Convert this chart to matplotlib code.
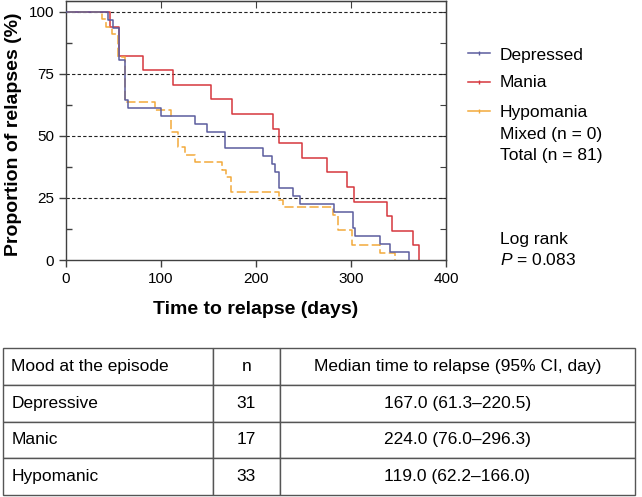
import matplotlib
matplotlib.use("Agg")
import matplotlib.pyplot as plt
from matplotlib.lines import Line2D
import numpy as np

plt.rcParams["font.family"] = ["Liberation Sans", "DejaVu Sans"]
plt.rcParams["mathtext.fontset"] = "custom"
plt.rcParams["mathtext.it"] = "Liberation Sans:italic"
plt.rcParams["mathtext.rm"] = "Liberation Sans"

# Kaplan-Meier style steps (days, % not relapsed)
depressed_t = [0, 44.5, 49, 56, 62, 65.6, 100, 136, 148, 167.4, 207, 217, 220,
               224.6, 238.6, 246, 282, 301.7, 304, 330, 341, 361]
depressed_s = [100, 96.8, 93.5, 80.6, 64.5, 61.3, 58.1, 54.8, 51.6, 45.2, 41.9,
               38.7, 35.5, 29.0, 25.8, 22.6, 19.4, 12.9, 9.7, 6.5, 3.2, 0]

mania_t = [0, 46, 56, 81, 113, 153, 175, 217.5, 224.6, 248, 275, 296, 303,
           337.5, 343, 365, 371.6]
mania_s = [100, 94.1, 82.4, 76.5, 70.6, 64.7, 58.8, 52.9, 47.1, 41.2, 35.3,
           29.4, 23.5, 17.6, 11.8, 5.9, 0]

hypo_t = [0, 37.5, 42, 48, 55, 62, 94, 111, 118, 125, 136, 164, 168, 174, 224,
          228.5, 281.5, 286, 300.7, 330, 346]
hypo_s = [100, 97.0, 93.9, 90.9, 81.8, 63.6, 60.6, 51.5, 45.5, 42.4, 39.4, 36.4,
          33.3, 27.3, 24.2, 21.2, 18.2, 12.1, 6.1, 3.0, 0]

series_labels = ["Depressed", "Mania", "Hypomania"]
extra_labels = ["Mixed (n = 0)", "Total (n = 81)"]

table_header = ["Mood at the episode", "n", "Median time to relapse (95% CI, day)"]
table_rows = [
    ["Depressive", "31", "167.0 (61.3\u2013220.5)"],
    ["Manic", "17", "224.0 (76.0\u2013296.3)"],
    ["Hypomanic", "33", "119.0 (62.2\u2013166.0)"],
]

BLUE = "#5b5d9e"
RED = "#d6373d"
ORANGE = "#f2a93b"
W, H = 642, 497

fig = plt.figure(figsize=(W / 100, H / 100), dpi=100)
ax = fig.add_axes([66 / W, (H - 260) / H, 380 / W, 259 / H])

for y in [25, 50, 75, 100]:
    ax.axhline(y, color="#222222", lw=0.8, ls=(0, (3, 2)), zorder=1)

ax.step(depressed_t, depressed_s, where="post", color=BLUE, lw=1.1, zorder=3)
ax.step(mania_t, mania_s, where="post", color=RED, lw=1.1, zorder=2)
ax.step(hypo_t, hypo_s, where="post", color=ORANGE, lw=1.1,
        dashes=(6, 2.2), zorder=2)

ax.set_xlim(0, 400)
ax.set_ylim(0, 104.4)
ax.set_xticks([0, 100, 200, 300, 400])
ax.set_yticks([0, 25, 50, 75, 100])
ax.set_yticks(np.arange(12.5, 100, 25), minor=True)
ax.tick_params(axis="both", which="major", direction="out", length=5,
               labelsize=11, color="#404040", width=1)
ax.tick_params(axis="y", which="minor", direction="in", length=4,
               color="#404040", width=1)
for sp in ax.spines.values():
    sp.set_color("#404040")
    sp.set_linewidth(1)

top = ax.secondary_xaxis("top")
top.set_xticks([100, 200, 300])
top.tick_params(direction="in", length=5, labeltop=False, color="#404040")
right = ax.secondary_yaxis("right")
right.set_yticks(np.arange(0, 101, 12.5))
right.tick_params(direction="in", length=4, labelright=False, color="#404040")

fig.text(14 / W, (H - 134) / H, "Proportion of relapses (%)", rotation=90,
         ha="center", va="center", fontsize=14, fontweight="bold")
fig.text(256 / W, (H - 310) / H, "Time to relapse (days)", ha="center",
         va="center", fontsize=14, fontweight="bold")

# legend drawn by hand to match the uneven spacing
colors = [BLUE, RED, ORANGE]
line_y = [52.7, 81.7, 110.7]
text_y = [60, 86.7, 117.3]
for lab, c, ly, ty in zip(series_labels, colors, line_y, text_y):
    fig.add_artist(Line2D([468 / W, 479 / W, 490 / W], [(H - ly) / H] * 3,
                          color=c, lw=1.1, marker="|", markersize=3,
                          markevery=[1]))
    fig.text(500 / W, (H - ty) / H, lab, fontsize=12.5, va="baseline")
for lab, ty in zip(extra_labels, [139.3, 160]):
    fig.text(500 / W, (H - ty) / H, lab, fontsize=12.5, va="baseline")
fig.text(500 / W, (H - 244.3) / H, "Log rank", fontsize=12.5, va="baseline")
fig.text(500 / W, (H - 265) / H, "$P$ = 0.083", fontsize=12.5, va="baseline")

# summary table
tax = fig.add_axes([3 / W, (H - 495) / H, 632 / W, 147 / H])
tax.axis("off")
col_w = np.array([210, 66.6, 355.4]) / 632
tbl = tax.table(cellText=table_rows, colLabels=table_header, colWidths=col_w,
                bbox=[0, 0, 1, 1], cellLoc="center")
tbl.auto_set_font_size(False)
tbl.set_fontsize(12.5)
for (r, c), cell in tbl.get_celld().items():
    cell.set_edgecolor("#555555")
    cell.set_linewidth(1)
    if c == 0:
        cell._loc = "left"
        cell.PAD = 0.04
        cell.get_text().set_ha("left")

fig.savefig("out.png", dpi=100)
